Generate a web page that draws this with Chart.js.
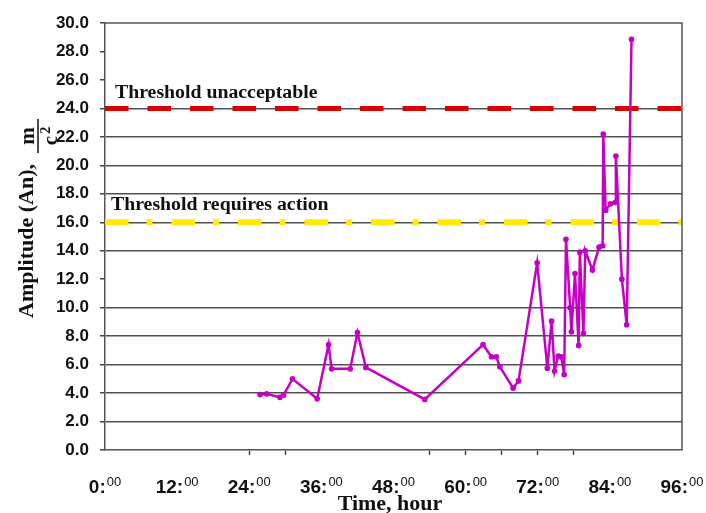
<!DOCTYPE html>
<html>
<head>
<meta charset="utf-8">
<script src="https://cdn.jsdelivr.net/npm/chart.js@4"></script>
<style>
  html, body { margin: 0; padding: 0; background: #fff; }
  #chart { display: block; }
</style>
</head>
<body>
<canvas id="chart" width="706" height="513"></canvas>
<script>
// hours and amplitude readings
const hours = [25.8, 26.9, 29.1, 29.7, 31.2, 35.3, 37.2, 37.7, 40.8, 42.0, 43.4, 53.2,
    62.9, 64.3, 65.1, 65.7, 67.9, 68.8, 71.9, 73.6, 74.3, 74.8, 75.4, 75.9, 76.4, 76.7,
    77.4, 77.6, 78.2, 78.8, 79.0, 79.6, 79.9, 81.1, 82.2, 82.8, 82.9, 83.3, 84.1, 84.9,
    85.0, 86.0, 86.8, 87.6];
const amplitude = [3.9, 3.95, 3.7, 3.85, 5.0, 3.6, 7.4, 5.7, 5.7, 8.25, 5.8, 3.55,
    7.4, 6.55, 6.55, 5.85, 4.35, 4.85, 13.15, 5.75, 9.05, 5.55, 6.6, 6.55, 5.3, 14.8,
    10.0, 8.3, 12.4, 7.35, 13.9, 8.2, 14.0, 12.65, 14.25, 14.35, 22.2, 16.85, 17.3, 17.4,
    20.65, 12.0, 8.8, 28.85];

const thresholdUnacceptable = 24;
const thresholdAction = 16;

const xTickLabels = [0, 12, 24, 36, 48, 60, 72, 84, 96];
const xMarkedTicks = [24, 30, 54, 60, 66, 72, 78];
const yGridValues = [2, 4, 6, 8, 10, 14, 16, 18, 20, 22, 24];

const series = hours.map((h, i) => ({ x: h, y: amplitude[i] }));

// === text, frame and axis titles ===
const decorPlugin = {
    id: 'decor',
    afterDraw(chart) {
        const ctx = chart.ctx;
        const area = chart.chartArea;
        const xs = chart.scales.x;
        ctx.save();

        // top and right frame
        ctx.strokeStyle = '#555';
        ctx.lineWidth = 1.5;
        ctx.beginPath();
        ctx.moveTo(area.left, area.top);
        ctx.lineTo(area.right, area.top);
        ctx.lineTo(area.right, area.bottom);
        ctx.stroke();

        // x labels like 12:00 with small raised minutes
        ctx.fillStyle = '#111';
        ctx.textBaseline = 'alphabetic';
        ctx.textAlign = 'left';
        xTickLabels.forEach(h => {
            const main = h + ':';
            ctx.font = 'bold 19px "Liberation Sans"';
            const wMain = ctx.measureText(main).width;
            ctx.font = '13px "Liberation Sans"';
            const wSup = ctx.measureText('00').width;
            const px = xs.getPixelForValue(h);
            const start = px - (wMain + wSup + 1) / 2;
            ctx.font = 'bold 19px "Liberation Sans"';
            ctx.fillText(main, start, 493);
            ctx.font = '13px "Liberation Sans"';
            ctx.fillText('00', start + wMain + 1, 486);
        });

        // x title
        ctx.font = 'bold 22px "Liberation Serif"';
        ctx.textAlign = 'center';
        ctx.fillText('Time, hour', 390, 510);

        // threshold captions
        ctx.textAlign = 'left';
        ctx.font = 'bold 19.8px "Liberation Serif"';
        ctx.fillText('Threshold unacceptable', 115, 98);
        ctx.fillText('Threshold requires action', 111, 210);

        // y title, rotated, with m / c^2 fraction
        ctx.translate(33, 318);
        ctx.rotate(-Math.PI / 2);
        ctx.font = 'bold 22px "Liberation Serif"';
        ctx.fillText('Amplitude (An),', 0, 0);
        const fc = 182;
        ctx.strokeStyle = '#111';
        ctx.lineWidth = 1.5;
        ctx.beginPath();
        ctx.moveTo(fc - 17, 5);
        ctx.lineTo(fc + 17, 5);
        ctx.stroke();
        ctx.font = 'bold 21px "Liberation Serif"';
        ctx.textAlign = 'center';
        ctx.fillText('m', fc, 1);
        const wc = ctx.measureText('c').width;
        ctx.font = 'bold 14px "Liberation Serif"';
        const w2 = ctx.measureText('2').width;
        const cStart = fc - (wc + w2 + 2) / 2;
        ctx.textAlign = 'left';
        ctx.font = 'bold 21px "Liberation Serif"';
        ctx.fillText('c', cStart, 24);
        ctx.font = 'bold 14px "Liberation Serif"';
        ctx.fillText('2', cStart + wc + 2, 17);

        ctx.restore();
    }
};

const ctx = document.getElementById('chart').getContext('2d');
const chart = new Chart(ctx, {
    type: 'line',
    data: {
        datasets: [{
            label: 'Amplitude',
            data: series,
            borderColor: '#c400c4',
            backgroundColor: '#c400c4',
            borderWidth: 2.5,
            pointRadius: 1.6,
            pointHoverRadius: 1.6,
            tension: 0,
            order: 0
        }, {
            label: 'Threshold unacceptable',
            data: [{ x: 0, y: thresholdUnacceptable }, { x: 96, y: thresholdUnacceptable }],
            borderColor: '#d80000',
            borderWidth: 5,
            borderDash: [23.5, 19],
            borderCapStyle: 'butt',
            pointRadius: 0,
            order: 1
        }, {
            label: 'Threshold requires action',
            data: [{ x: 0, y: thresholdAction }, { x: 96, y: thresholdAction }],
            borderColor: '#ffea00',
            borderWidth: 6,
            borderDash: [23.5, 18, 6, 19],
            borderCapStyle: 'butt',
            pointRadius: 0,
            order: 2
        }]
    },
    options: {
        responsive: false,
        devicePixelRatio: 1,
        animation: false,
        layout: { padding: { top: 23, right: 24, left: 0, bottom: 0 } },
        plugins: {
            legend: { display: false },
            tooltip: { enabled: false }
        },
        scales: {
            x: {
                type: 'linear',
                min: 0,
                max: 96,
                afterFit: s => { s.height = 63; },
                ticks: { stepSize: 6, autoSkip: false, display: false },
                grid: {
                    drawOnChartArea: false,
                    drawTicks: true,
                    tickLength: 5,
                    tickWidth: 1.5,
                    tickColor: c => xMarkedTicks.includes(c.tick.value) ? '#444' : 'rgba(0,0,0,0)'
                },
                border: { display: true, color: '#555', width: 1.5 }
            },
            y: {
                min: 0,
                max: 30,
                afterFit: s => { s.width = 105; },
                ticks: {
                    stepSize: 2,
                    padding: 11,
                    color: '#111',
                    font: { family: 'Liberation Sans', size: 17, weight: 'bold' },
                    callback: v => v.toFixed(1)
                },
                grid: {
                    color: c => yGridValues.includes(c.tick.value) ? '#505050' : 'rgba(0,0,0,0)',
                    lineWidth: 1.5,
                    tickLength: 5,
                    tickColor: '#444',
                    tickWidth: 1.5
                },
                border: { display: true, color: '#555', width: 1.5 }
            }
        }
    },
    plugins: [decorPlugin]
});
</script>
</body>
</html>
